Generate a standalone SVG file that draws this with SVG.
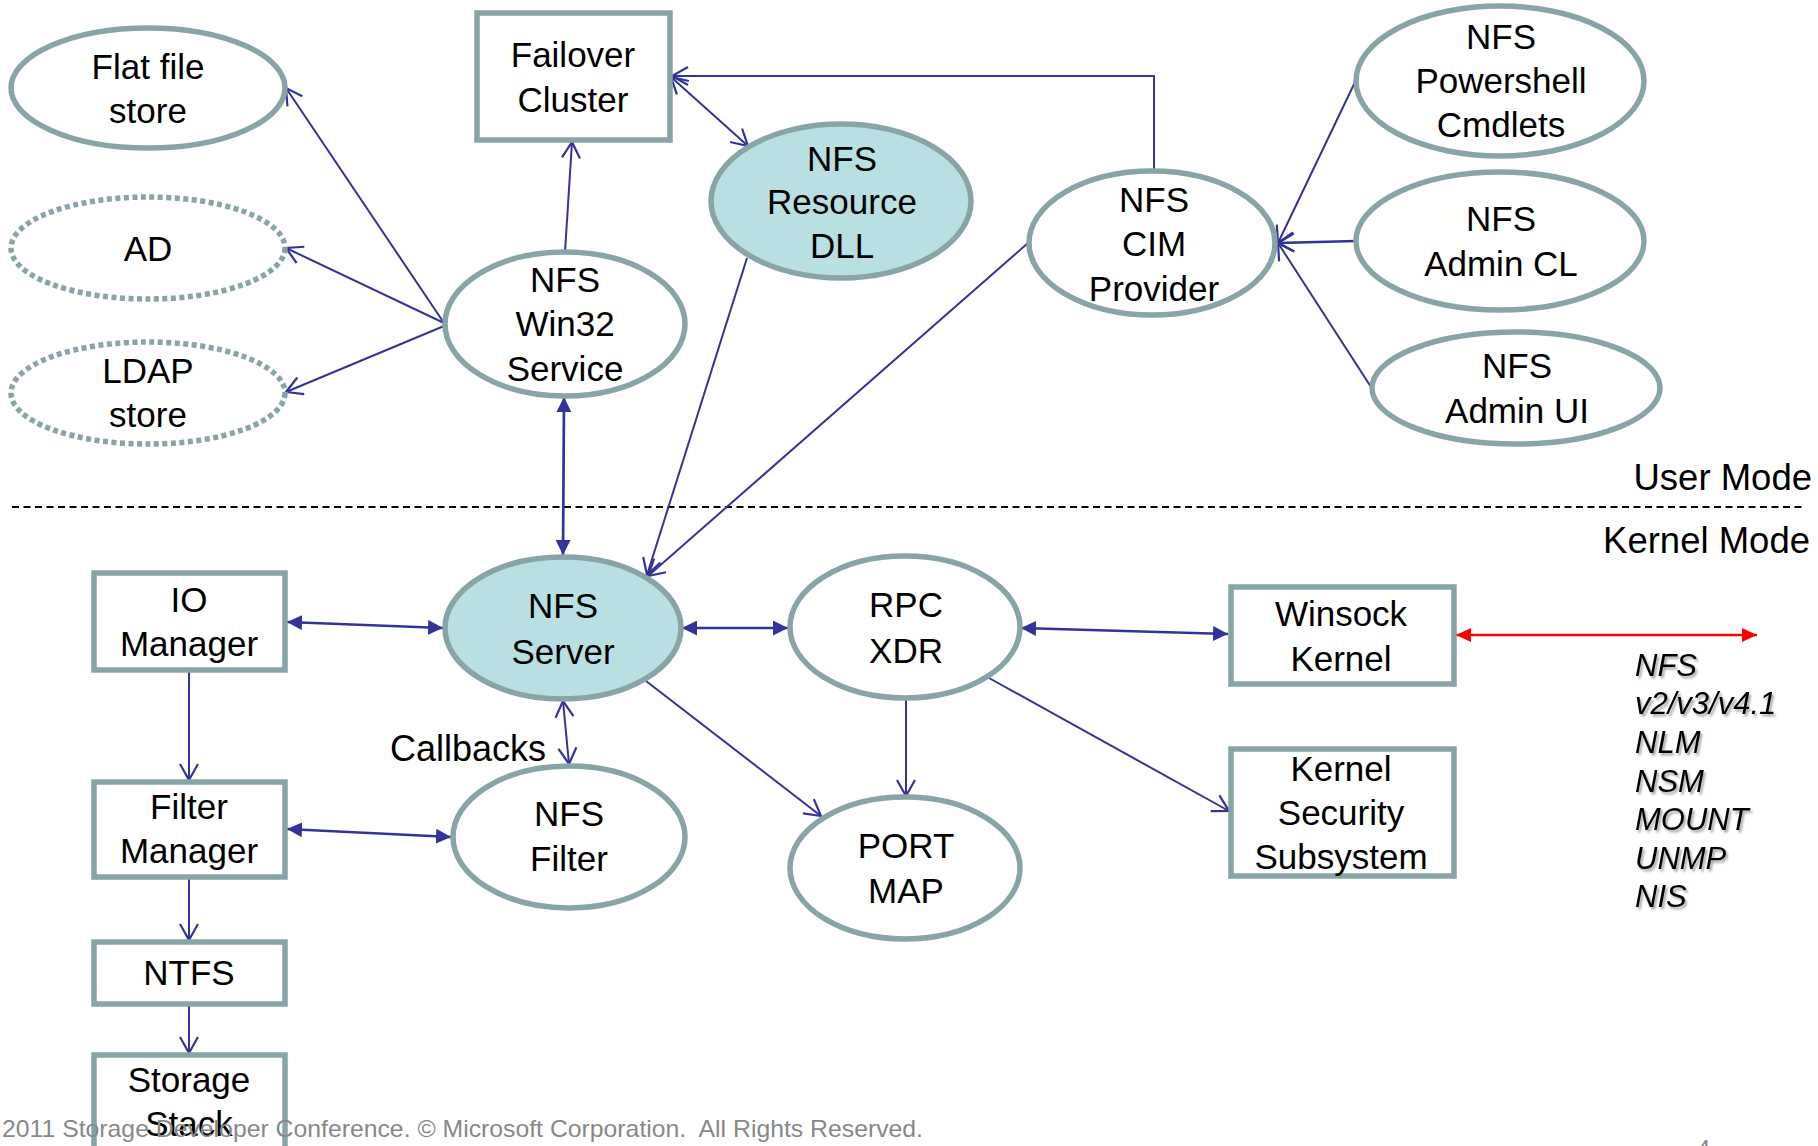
<svg xmlns="http://www.w3.org/2000/svg" width="1818" height="1146" viewBox="0 0 1818 1146">
  <style>
    .node { fill: #ffffff; stroke: #88a4a6; stroke-width: 5.5; }
    .hot { fill: #b8dfe2; }
    .dotted { stroke-dasharray: 5 3.5; }
    .lbl { font-family: "Liberation Sans", Arial, sans-serif; font-size: 35px; fill: #000; text-anchor: middle; }
    .mode { font-family: "Liberation Sans", Arial, sans-serif; font-size: 36.5px; fill: #000; text-anchor: end; }
    .proto { font-family: "Liberation Sans", Arial, sans-serif; font-size: 31px; font-style: italic; fill: #000; }
    .cb { font-family: "Liberation Sans", Arial, sans-serif; font-size: 36px; fill: #000; }
    .foot { font-family: "Liberation Sans", Arial, sans-serif; font-size: 24px; fill: #888888; }
    .link { fill: none; stroke: #333399; stroke-width: 2; }
    .link2 { fill: none; stroke: #333399; stroke-width: 2.7; }
    .one { marker-end: url(#open); }
    .both { marker-start: url(#open); marker-end: url(#open); }
    .solid { marker-start: url(#tri); marker-end: url(#tri); }
  </style>
  <defs>
    <marker id="open" markerUnits="userSpaceOnUse" viewBox="0 0 16 18" refX="16" refY="9" markerWidth="16" markerHeight="18" orient="auto-start-reverse" overflow="visible">
      <path d="M0,0 L16,9 L0,18" fill="none" stroke="#333399" stroke-width="2.2"/>
    </marker>
    <marker id="tri" markerUnits="userSpaceOnUse" viewBox="0 0 15 15" refX="15" refY="7.5" markerWidth="15" markerHeight="15" orient="auto-start-reverse">
      <path d="M0,0 L15,7.5 L0,15 Z" fill="#333399"/>
    </marker>
    <marker id="triRed" markerUnits="userSpaceOnUse" viewBox="0 0 15 14" refX="15" refY="7" markerWidth="15" markerHeight="14" orient="auto-start-reverse">
      <path d="M0,0 L15,7 L0,14 Z" fill="#ff0000"/>
    </marker>
    <filter id="shadow" x="-10%" y="-20%" width="130%" height="150%">
      <feDropShadow dx="2" dy="2.5" stdDeviation="1.2" flood-color="#000" flood-opacity="0.35"/>
    </filter>
  </defs>

  <rect width="1818" height="1146" fill="#ffffff"/>

  <!-- user / kernel boundary -->
  <line x1="12" y1="507" x2="1803" y2="507" stroke="#000" stroke-width="1.8" stroke-dasharray="7 4.5"/>
  <text class="mode" x="1812" y="490">User Mode</text>
  <text class="mode" x="1810" y="553">Kernel Mode</text>

  <!-- connectors -->
  <g id="connectors">
    <path class="link one" d="M444,323 L286,88"/>
    <path class="link one" d="M444,323 L286,248"/>
    <path class="link one" d="M444,326 L286,392"/>
    <path class="link one" d="M565,252 L572,142"/>
    <path class="link one" d="M1154,172 L1154,76 L672,76"/>
    <path class="link both" d="M671,77 L748,146"/>
    <path class="link one" d="M747,258 L647,575"/>
    <path class="link one" d="M1028,243 L648,576"/>
    <path class="link one" d="M1356,80 L1278,243"/>
    <path class="link2 one" d="M1356,241 L1278,243"/>
    <path class="link one" d="M1371,387 L1278,243"/>

    <path class="link2 solid" d="M564,397 L563,555"/>
    <path class="link2 solid" d="M287,622 L443,628"/>
    <path class="link2 solid" d="M682,628 L788,628"/>
    <path class="link2 solid" d="M1021,628 L1228,634"/>
    <path d="M1456,635 L1757,635" fill="none" stroke="#ff0000" stroke-width="2.7" marker-start="url(#triRed)" marker-end="url(#triRed)"/>
    <path class="link one" d="M906,699 L906,796"/>
    <path class="link one" d="M989,678 L1229,811"/>
    <path class="link one" d="M646,681 L821,816"/>
    <path class="link both" d="M563,701 L569,764"/>
    <path class="link one" d="M189,671 L189,780"/>
    <path class="link2 solid" d="M287,829 L451,837"/>
    <path class="link one" d="M189,878 L189,940"/>
    <path class="link one" d="M189,1005 L189,1053"/>
  </g>

  <!-- user mode components -->
  <g id="flat-file-store">
    <ellipse class="node" cx="148" cy="88" rx="137" ry="60"/>
    <text class="lbl"><tspan x="148" y="79">Flat file</tspan><tspan x="148" y="123">store</tspan></text>
  </g>
  <g id="ad">
    <ellipse class="node dotted" cx="148" cy="248" rx="137" ry="51"/>
    <text class="lbl" x="148" y="261">AD</text>
  </g>
  <g id="ldap-store">
    <ellipse class="node dotted" cx="148" cy="393" rx="137" ry="51"/>
    <text class="lbl"><tspan x="148" y="383">LDAP</tspan><tspan x="148" y="427">store</tspan></text>
  </g>
  <g id="failover-cluster">
    <rect class="node" x="477" y="13" width="193" height="127"/>
    <text class="lbl"><tspan x="573" y="67">Failover</tspan><tspan x="573" y="112">Cluster</tspan></text>
  </g>
  <g id="nfs-win32-service">
    <ellipse class="node" cx="565" cy="324" rx="120" ry="72"/>
    <text class="lbl"><tspan x="565" y="292">NFS</tspan><tspan x="565" y="336">Win32</tspan><tspan x="565" y="381">Service</tspan></text>
  </g>
  <g id="nfs-resource-dll">
    <ellipse class="node hot" cx="841" cy="201" rx="130" ry="77"/>
    <text class="lbl"><tspan x="842" y="171">NFS</tspan><tspan x="842" y="214">Resource</tspan><tspan x="842" y="258">DLL</tspan></text>
  </g>
  <g id="nfs-cim-provider">
    <ellipse class="node" cx="1152" cy="243" rx="123" ry="72"/>
    <text class="lbl"><tspan x="1154" y="212">NFS</tspan><tspan x="1154" y="256">CIM</tspan><tspan x="1154" y="301">Provider</tspan></text>
  </g>
  <g id="nfs-powershell-cmdlets">
    <ellipse class="node" cx="1500" cy="81" rx="144" ry="75"/>
    <text class="lbl"><tspan x="1501" y="49">NFS</tspan><tspan x="1501" y="93">Powershell</tspan><tspan x="1501" y="137">Cmdlets</tspan></text>
  </g>
  <g id="nfs-admin-cl">
    <ellipse class="node" cx="1500" cy="241" rx="144" ry="69"/>
    <text class="lbl"><tspan x="1501" y="231">NFS</tspan><tspan x="1501" y="276">Admin CL</tspan></text>
  </g>
  <g id="nfs-admin-ui">
    <ellipse class="node" cx="1516" cy="388" rx="144" ry="56"/>
    <text class="lbl"><tspan x="1517" y="378">NFS</tspan><tspan x="1517" y="423">Admin UI</tspan></text>
  </g>

  <!-- kernel mode components -->
  <g id="io-manager">
    <rect class="node" x="94" y="573" width="191" height="97"/>
    <text class="lbl"><tspan x="189" y="612">IO</tspan><tspan x="189" y="656">Manager</tspan></text>
  </g>
  <g id="filter-manager">
    <rect class="node" x="94" y="782" width="191" height="95"/>
    <text class="lbl"><tspan x="189" y="819">Filter</tspan><tspan x="189" y="863">Manager</tspan></text>
  </g>
  <g id="ntfs">
    <rect class="node" x="94" y="942" width="191" height="62"/>
    <text class="lbl" x="189" y="985">NTFS</text>
  </g>
  <g id="storage-stack">
    <rect class="node" x="94" y="1055" width="191" height="110"/>
    <text class="lbl"><tspan x="189" y="1092">Storage</tspan><tspan x="189" y="1136">Stack</tspan></text>
  </g>
  <g id="nfs-server">
    <ellipse class="node hot" cx="563" cy="628" rx="118" ry="71"/>
    <text class="lbl"><tspan x="563" y="618">NFS</tspan><tspan x="563" y="664">Server</tspan></text>
  </g>
  <g id="nfs-filter">
    <ellipse class="node" cx="569" cy="837" rx="116" ry="71"/>
    <text class="lbl"><tspan x="569" y="826">NFS</tspan><tspan x="569" y="871">Filter</tspan></text>
  </g>
  <text class="cb" x="390" y="761">Callbacks</text>
  <g id="rpc-xdr">
    <ellipse class="node" cx="905" cy="627" rx="115" ry="71"/>
    <text class="lbl"><tspan x="906" y="617">RPC</tspan><tspan x="906" y="663">XDR</tspan></text>
  </g>
  <g id="port-map">
    <ellipse class="node" cx="905" cy="868" rx="115" ry="71"/>
    <text class="lbl"><tspan x="906" y="858">PORT</tspan><tspan x="906" y="903">MAP</tspan></text>
  </g>
  <g id="winsock-kernel">
    <rect class="node" x="1231" y="587" width="223" height="97"/>
    <text class="lbl"><tspan x="1341" y="626">Winsock</tspan><tspan x="1341" y="671">Kernel</tspan></text>
  </g>
  <g id="kernel-security-subsystem">
    <rect class="node" x="1231" y="749" width="223" height="127"/>
    <text class="lbl"><tspan x="1341" y="781">Kernel</tspan><tspan x="1341" y="825">Security</tspan><tspan x="1341" y="869">Subsystem</tspan></text>
  </g>

  <!-- wire protocols -->
  <g id="protocols" filter="url(#shadow)">
    <text class="proto" x="1635" y="676">NFS</text>
    <text class="proto" x="1635" y="714">v2/v3/v4.1</text>
    <text class="proto" x="1635" y="753">NLM</text>
    <text class="proto" x="1635" y="792">NSM</text>
    <text class="proto" x="1635" y="830">MOUNT</text>
    <text class="proto" x="1635" y="869">UNMP</text>
    <text class="proto" x="1635" y="907">NIS</text>
  </g>

  <!-- footer -->
  <text class="foot" x="2" y="1137" textLength="921" lengthAdjust="spacingAndGlyphs" xml:space="preserve">2011 Storage Developer Conference. © Microsoft Corporation.  All Rights Reserved.</text>
  <text class="foot" x="1697" y="1157">4</text>
</svg>
